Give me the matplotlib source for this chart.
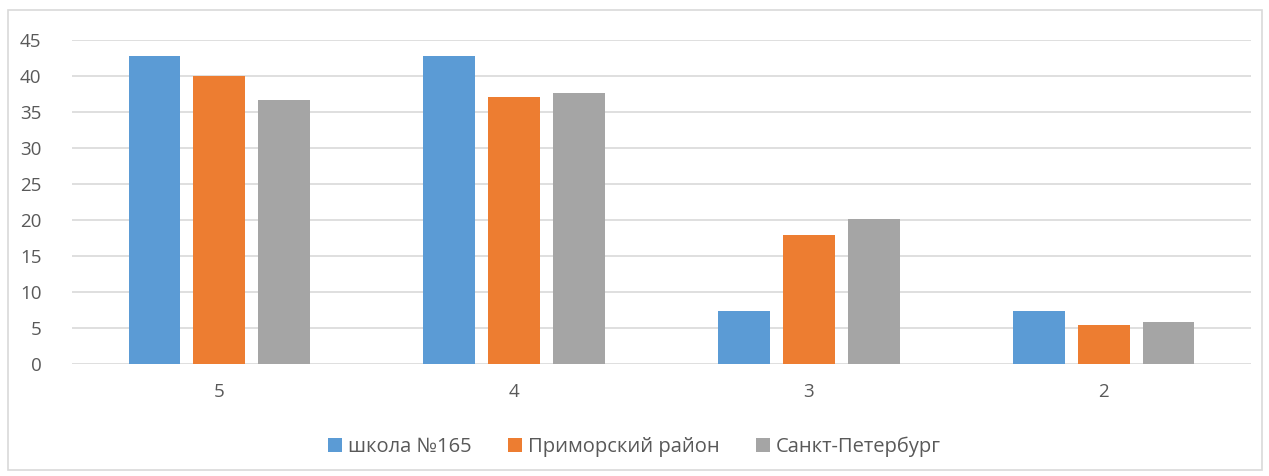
import matplotlib
matplotlib.use('Agg')
import matplotlib.pyplot as plt
import matplotlib.patches as mpatches
import numpy as np

plt.rcParams['font.family'] = ['Open Sans', 'DejaVu Sans']

categories = ['5', '4', '3', '2']
series_names = ['школа №165', 'Приморский район', 'Санкт-Петербург']
school = [42.8, 42.8, 7.3, 7.3]
district = [40.0, 37.1, 17.9, 5.4]
city = [36.6, 37.6, 20.1, 5.8]
colors = ['#5B9BD5', '#ED7D31', '#A5A5A5']

fig = plt.figure(figsize=(12.69, 4.76), dpi=100)
ax = fig.add_axes([72/1269, 1-364/476, (1251-72)/1269, (364-40)/476])

x = np.arange(len(categories))
w = 0.176
step = 0.22
for i, (vals, name) in enumerate(zip([school, district, city], series_names)):
    ax.bar(x + (i-1)*step, vals, width=w, color=colors[i], label=name, zorder=3)

ax.set_xlim(-0.5, 3.5)
ax.set_ylim(0, 45)
ax.set_yticks(range(0, 46, 5))
ax.set_xticks(x)
ax.set_xticklabels(categories)
ax.yaxis.grid(True, color='#D9D9D9', linewidth=1.2, zorder=0)
for s in ax.spines.values():
    s.set_visible(False)
ax.tick_params(axis='both', length=0, labelsize=13.5, colors='#595959')
ax.tick_params(axis='y', pad=22)
ax.tick_params(axis='x', pad=14)

ax.legend(loc='center', bbox_to_anchor=(0.5, 1-447/476), bbox_transform=fig.transFigure,
          ncol=3, frameon=False, fontsize=14.5, labelcolor='#595959',
          handlelength=0.7, handleheight=0.7, handletextpad=0.3, columnspacing=1.8)

fig.patches.append(mpatches.Rectangle((8/1269, 1-470/476), 1254/1269, 460/476,
                                      transform=fig.transFigure, fill=False,
                                      edgecolor='#D9D9D9', linewidth=1.2))

fig.savefig('out.png', dpi=100)
